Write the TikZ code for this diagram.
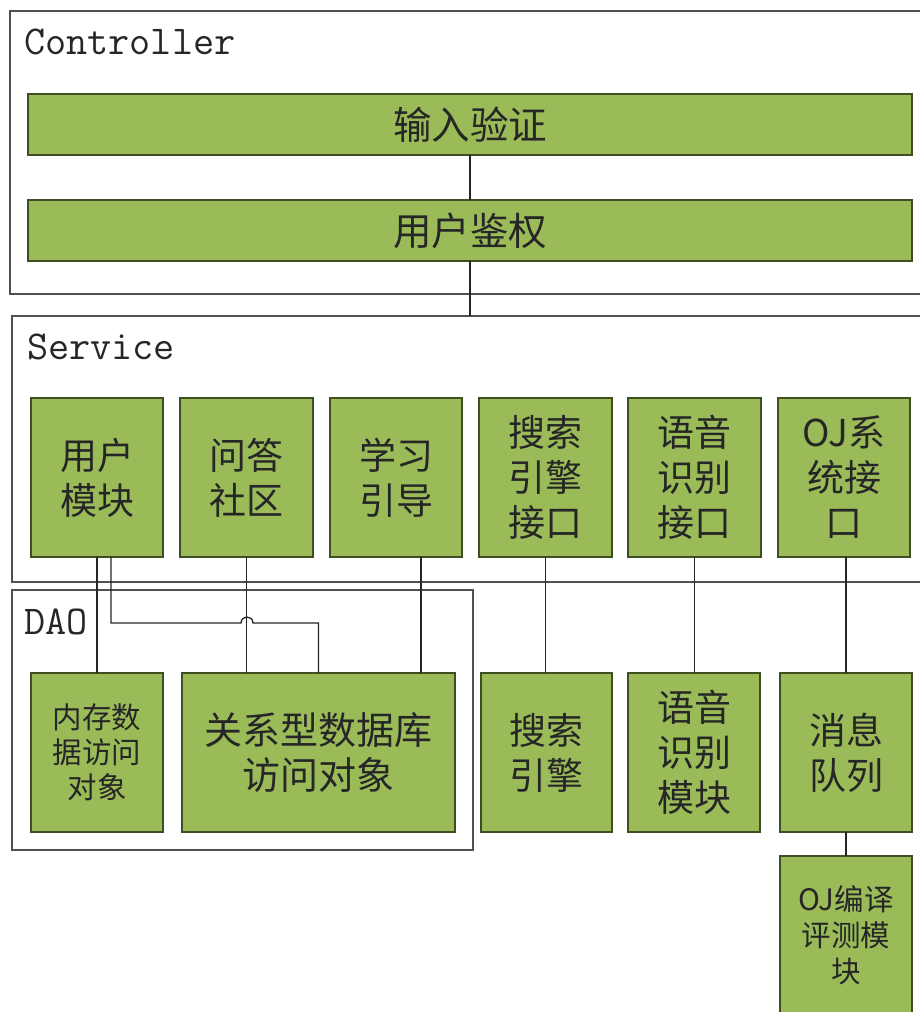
\documentclass[tikz,border=0pt]{standalone}
\usepackage{fontspec}
\newfontfamily\cjk{Noto Sans CJK SC}
\definecolor{boxgreen}{HTML}{9BBB59}
\definecolor{boxedge}{HTML}{3F4F22}
\definecolor{frameedge}{HTML}{505050}
\begin{document}
\begin{tikzpicture}[x=1pt,y=-1pt,
  frame/.style={draw=frameedge,line width=1.3pt,inner sep=0pt,outer sep=0pt},
  gbox/.style={draw=boxedge,fill=boxgreen,line width=1.2pt,inner sep=0pt,outer sep=0pt,
    align=center,text=black!85,font=\cjk\fontsize{37}{45}\selectfont},
  small/.style={font=\cjk\fontsize{29.5}{35}\selectfont},
  ttl/.style={anchor=west,inner sep=0pt,text=black!85,font=\fontsize{41}{41}\selectfont\ttfamily},
  conn/.style={draw=black!85,line width=1.3pt}]
\useasboundingbox (0,0) rectangle (920,1012);
% frames
\node[frame,minimum width=920pt,minimum height=283pt] (ctrl) at (470,152.5) {};
\node[frame,minimum width=918pt,minimum height=266pt] (serv) at (471,449) {};
\node[frame,minimum width=461pt,minimum height=260pt] (dao) at (242.5,720) {};
\node[ttl] (tc) at (24,42) {Controller};
\node[ttl] (ts) at (27,347) {Service};
\node[ttl] (td) at (24,622) {DAO};
% controller boxes
\node[gbox,minimum width=884pt,minimum height=61pt,font=\cjk\fontsize{38.5}{45}\selectfont] (in1) at (470,124.5) {输入验证};
\node[gbox,minimum width=884pt,minimum height=61pt,font=\cjk\fontsize{38.5}{45}\selectfont] (in2) at (470,230.5) {用户鉴权};
% service boxes
\node[gbox,minimum width=132pt,minimum height=159pt] (s1) at (97,477.5) {用户\\模块};
\node[gbox,minimum width=133pt,minimum height=159pt] (s2) at (246.5,477.5) {问答\\社区};
\node[gbox,minimum width=132pt,minimum height=159pt] (s3) at (396,477.5) {学习\\引导};
\node[gbox,minimum width=133pt,minimum height=159pt] (s4) at (545.5,477.5) {搜索\\引擎\\接口};
\node[gbox,minimum width=133pt,minimum height=159pt] (s5) at (694.5,477.5) {语音\\识别\\接口};
\node[gbox,minimum width=132pt,minimum height=159pt] (s6) at (844,477.5) {OJ系\\统接\\口};
% dao and external boxes
\node[gbox,small,minimum width=132pt,minimum height=159pt] (d1) at (97,752.5) {内存数\\据访问\\对象};
\node[gbox,minimum width=273pt,minimum height=159pt,font=\cjk\fontsize{38}{45}\selectfont] (d2) at (318.5,752.5) {关系型数据库\\访问对象};
\node[gbox,minimum width=131pt,minimum height=159pt] (e1) at (546.5,752.5) {搜索\\引擎};
\node[gbox,minimum width=132pt,minimum height=159pt] (e2) at (694,752.5) {语音\\识别\\模块};
\node[gbox,minimum width=132pt,minimum height=159pt] (e3) at (846,752.5) {消息\\队列};
\node[gbox,minimum width=132pt,minimum height=159pt,font=\cjk\fontsize{29.5}{36}\selectfont] (oj) at (846,935.5) {OJ编译\\评测模\\块};
% connectors
\draw[conn] (in1.south) -- (in2.north);
\draw[conn] (in2.south) -- (in2.south |- serv.north);
\draw[conn] (s1.south) -- (d1.north);
\coordinate (hop) at (247,623);
\draw[conn] ([xshift=14pt]s1.south) -- ([xshift=14pt]s1.south |- hop)
  -- ([xshift=-6pt]hop) .. controls ([xshift=-6pt,yshift=8pt]hop) and ([xshift=6pt,yshift=8pt]hop) .. ([xshift=6pt]hop)
  -- (d2.north |- hop) -- (d2.north);
\draw[conn] (s2.south) -- (s2.south |- d2.north);
\draw[conn] ([xshift=25pt]s3.south) -- ([xshift=25pt]s3.south |- d2.north);
\draw[conn] (s4.south) -- (s4.south |- e1.north);
\draw[conn] (s5.south) -- (s5.south |- e2.north);
\draw[conn] ([xshift=2pt]s6.south) -- (e3.north);
\draw[conn] (e3.south) -- (oj.north);
\end{tikzpicture}
\end{document}
